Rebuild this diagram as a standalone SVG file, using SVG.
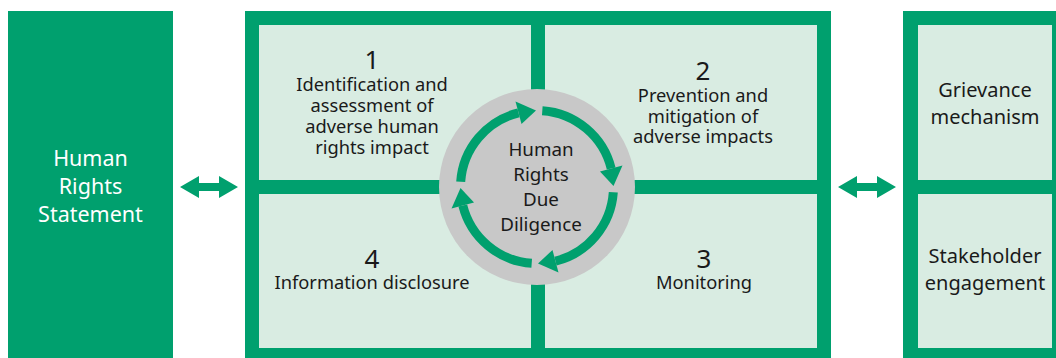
<svg xmlns="http://www.w3.org/2000/svg" width="1056" height="358" viewBox="0 0 1056 358">
<defs>
<style>
.g{fill:#00a06e}
.cell{fill:#d9ece2}
.t{font-family:"Noto Sans","Open Sans","DejaVu Sans",sans-serif;fill:#1a1a1a;text-anchor:middle}
.w{fill:#ffffff}
.s18{font-size:18.3px}
.s20{font-size:20px}
.s21{font-size:21.5px}
.c18{font-size:18.8px}
.num{font-size:26px}
.arc{fill:none;stroke:#00a06e;stroke-width:9}
</style>
<g id="cyc">
<path class="arc" d="M 460.7 181.7 A 76.5 76.5 0 0 1 518.5 112.8"/>
<polygon class="g" points="515.5,101.5 536,110.5 521.5,124"/>
</g>
<polygon id="dbl" class="g" points="0,11 19,0 19,7 39,7 39,0 58,11 39,22 39,15 19,15 19,22"/>
</defs>

<g id="statement">
<rect class="g" x="8" y="11" width="165" height="347"/>
<text class="t w s21"><tspan x="90.5" y="166">Human</tspan><tspan x="90.5" y="194">Rights</tspan><tspan x="90.5" y="222">Statement</tspan></text>
</g>

<g id="process">
<rect class="g" x="245" y="11" width="586" height="347"/>
<rect class="cell" x="259" y="25" width="272" height="155"/>
<rect class="cell" x="545" y="25" width="272" height="155"/>
<rect class="cell" x="259" y="194" width="272" height="154"/>
<rect class="cell" x="545" y="194" width="272" height="154"/>
</g>

<g id="step1">
<text class="t num" x="372" y="69">1</text>
<text class="t s18"><tspan x="372" y="91">Identification and</tspan><tspan x="372" y="112">assessment of</tspan><tspan x="372" y="133">adverse human</tspan><tspan x="372" y="154">rights impact</tspan></text>
</g>
<g id="step2">
<text class="t num" x="703" y="80">2</text>
<text class="t s18"><tspan x="703" y="102">Prevention and</tspan><tspan x="703" y="123">mitigation of</tspan><tspan x="703" y="143">adverse impacts</tspan></text>
</g>
<g id="step3">
<text class="t num" x="704" y="268">3</text>
<text class="t s18" x="704" y="289">Monitoring</text>
</g>
<g id="step4">
<text class="t num" x="372" y="268">4</text>
<text class="t s18" x="372" y="289">Information disclosure</text>
</g>

<g id="hrdd">
<circle cx="537" cy="187" r="98" fill="#c8c8c8"/>
<text class="t c18"><tspan x="541" y="156">Human</tspan><tspan x="541" y="181">Rights</tspan><tspan x="541" y="206">Due</tspan><tspan x="541" y="231">Diligence</tspan></text>
</g>

<g id="mechanisms">
<rect class="g" x="903" y="11" width="153" height="347"/>
<rect class="cell" x="918" y="25" width="134" height="155"/>
<rect class="cell" x="918" y="194" width="134" height="154"/>
<text class="t s20"><tspan x="985" y="97">Grievance</tspan><tspan x="985" y="124">mechanism</tspan></text>
<text class="t s20"><tspan x="985" y="263">Stakeholder</tspan><tspan x="985" y="290">engagement</tspan></text>
</g>

<g id="connectors">
<use href="#cyc"/>
<use href="#cyc" transform="rotate(90 537 187)"/>
<use href="#cyc" transform="rotate(180 537 187)"/>
<use href="#cyc" transform="rotate(270 537 187)"/>
<use href="#dbl" transform="translate(180 176)"/>
<use href="#dbl" transform="translate(838 176)"/>
</g>
</svg>
